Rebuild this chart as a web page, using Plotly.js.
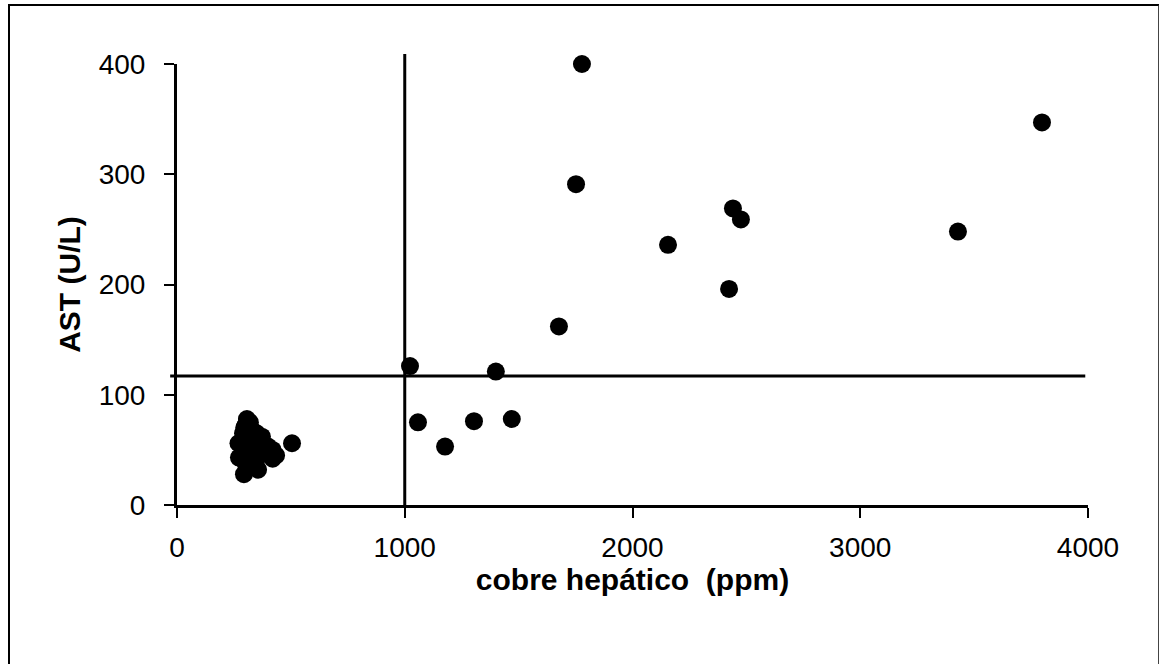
<!DOCTYPE html>
<html>
<head>
<meta charset="utf-8">
<script src="https://cdn.plot.ly/plotly-3.0.1.min.js"></script>
<style>
  html, body { margin: 0; padding: 0; background: #fff; }
  #chart { width: 1159px; height: 664px; }
  #frame { position: absolute; left: 8px; top: 4px; width: 1148px; height: 700px;
           border-left: 2px solid #000; border-top: 2px solid #000; border-right: 2px solid #444;
           pointer-events: none; }
</style>
</head>
<body>
<div id="chart"></div>
<div id="frame"></div>
<script>
// cobre hepático (ppm)
var copperPpm = [
  307, 320, 300, 295, 330, 350, 373, 290, 310, 270, 285, 300, 320, 340, 360, 400,
  420, 505, 272, 295, 310, 330, 350, 435, 420, 300, 320, 356, 294, 340, 380, 310,
  1023, 1400, 1058, 1177, 1304, 1470,
  1677, 1752, 1778, 2156, 2424, 2441, 2476, 3429, 3798
];
// AST (U/L)
var astUL = [
  78, 75, 72, 70, 68, 65, 62, 65, 62, 56, 58, 55, 58, 55, 55, 53,
  50, 56, 43, 45, 48, 45, 42, 45, 42, 38, 36, 32, 28, 40, 48, 52,
  126, 121, 75, 53, 76, 78,
  162, 291, 400, 236, 196, 269, 259, 248, 347
];
var xMax = 4000;
var yMax = 400;
var cutoffCopper = 1000;
var cutoffAST = 117;
var cutoffTopAST = 409;
var hLineStart = -30;
var hLineEnd = 3988;
var xTicks = [0, 1000, 2000, 3000, 4000];
var yTicks = [0, 100, 200, 300, 400];

var trace = {
  x: copperPpm, y: astUL, type: 'scatter', mode: 'markers',
  marker: { color: '#000', size: 18 },
  cliponaxis: false, hoverinfo: 'x+y'
};

var layout = {
  width: 1159, height: 664,
  margin: { l: 177, r: 71, t: 64, b: 159 },
  paper_bgcolor: '#fff', plot_bgcolor: '#fff',
  showlegend: false,
  font: { family: 'Liberation Sans, Arial, sans-serif', color: '#000' },
  xaxis: {
    range: [0, xMax], tickvals: xTicks, ticktext: xTicks.map(String),
    showgrid: false, zeroline: false, showline: true, linecolor: '#000', linewidth: 3,
    ticks: 'outside', ticklen: 10, tickwidth: 2, tickcolor: '#000',
    tickfont: { size: 28, color: '#000' }, ticklabelstandoff: 5,
    title: { text: 'cobre hepático  (ppm)', font: { size: 30, weight: 'bold', color: '#000' }, standoff: 3 }
  },
  yaxis: {
    range: [0, yMax], tickvals: yTicks, ticktext: yTicks.map(String),
    showgrid: false, zeroline: false, showline: true, linecolor: '#000', linewidth: 3,
    ticks: 'outside', ticklen: 10, tickwidth: 2, tickcolor: '#000',
    tickfont: { size: 28, color: '#000' }, ticklabelstandoff: 13,
    title: { text: 'AST (U/L)', font: { size: 30, weight: 'bold', color: '#000' }, standoff: 10 }
  },
  shapes: [
    { type: 'line', xref: 'x', yref: 'paper', x0: cutoffCopper, x1: cutoffCopper,
      y0: 0, y1: cutoffTopAST / yMax,
      line: { color: '#000', width: 3 } },
    { type: 'line', xref: 'paper', yref: 'y', x0: hLineStart / xMax, x1: hLineEnd / xMax,
      y0: cutoffAST, y1: cutoffAST,
      line: { color: '#000', width: 3 } }
  ]
};

Plotly.newPlot('chart', [trace], layout, { displayModeBar: false, staticPlot: true });
</script>
</body>
</html>
